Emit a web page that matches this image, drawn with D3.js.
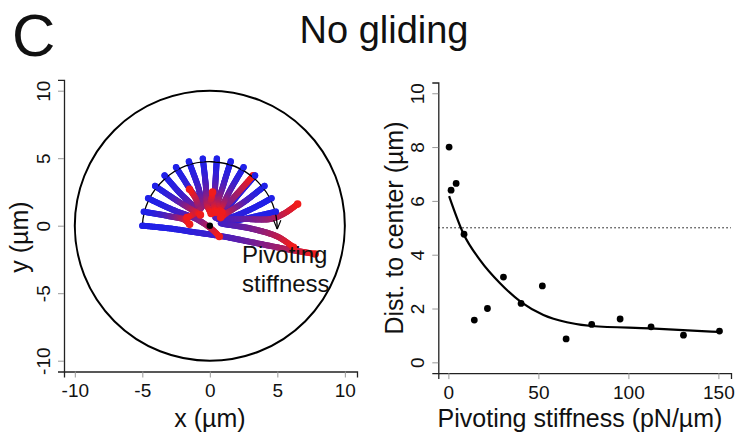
<!DOCTYPE html>
<html>
<head>
<meta charset="utf-8">
<script src="https://cdn.jsdelivr.net/npm/d3@7"></script>
<style>
  body { margin: 0; background: #fff; }
  svg text { font-family: "Liberation Sans", Arial, sans-serif; fill: #111; }
</style>
</head>
<body>
<div id="chart"></div>
<script>
// Right panel: distance to centre vs pivoting stiffness
var stiffness = [0.4, 1.5, 4.3, 8.7, 14.4, 21.7, 30.6, 40.4, 52.2, 65.4, 79.6, 95.4, 112.6, 130.6, 150.6];
var distance  = [8.0, 6.4, 6.65, 4.76, 1.57, 2.0, 3.17, 2.19, 2.84, 0.87, 1.41, 1.61, 1.32, 1.01, 1.16];
// fitted curve
var fitX = [0.4, 8.3, 17.6, 28.7, 40.8, 52.8, 65.8, 79.6, 112, 150];
var fitY = [6.18, 4.79, 3.8, 2.94, 2.22, 1.76, 1.49, 1.35, 1.26, 1.13];
var threshold = 5;

// Left panel: trajectories (x, y in µm), start on the r = 5 half circle
var trajectories = [
  [[-5, 0], [-3, -0.2], [-1, -0.5], [1, -0.8], [3, -1.2], [5.5, -1.7], [7.8, -2.1]],
  [[-4.89, 1.04], [-3, 0.7], [-1.9, 0.45], [-1.5, 0.1]],
  [[-4.57, 2.03], [-2.8, 1.2], [-1.0, 0.5], [0.2, -0.3], [0.7, -0.8]],
  [[-4.05, 2.94], [-2.5, 1.9], [-1.2, 1.1], [-0.7, 0.8]],
  [[-3.35, 3.72], [-2, 2.2], [-0.9, 1.3], [-1.0, 1.9], [-1.5, 2.7]],
  [[-2.5, 4.33], [-1.4, 2.6], [-0.6, 1.4], [-1.7, 0.6]],
  [[-1.55, 4.76], [-0.9, 3], [-0.4, 1.5], [0, 1.7], [0.2, 2.5]],
  [[-0.52, 4.97], [-0.3, 3], [-0.2, 1.5], [0.1, 0.9]],
  [[0.52, 4.97], [0.4, 3], [0.3, 1.5], [0.4, 1.0]],
  [[1.55, 4.76], [1.0, 3], [0.6, 1.5], [0.9, 1.0]],
  [[2.5, 4.33], [1.6, 2.8], [0.8, 1.3], [0.5, 1.0]],
  [[3.35, 3.72], [2.2, 2.4], [1.0, 1.0], [0.4, 0.6], [1.6, 1.9], [3.2, 3.7]],
  [[4.05, 2.94], [2.6, 1.8], [1.2, 0.9], [0.8, 0.6]],
  [[4.57, 2.03], [3, 1.2], [1.5, 0.6], [0.6, 0.5], [2.5, 0.5], [4.5, 0.5], [5.5, 0.9], [6.5, 1.6]],
  [[4.89, 1.04], [3, 0.6], [1.5, 0.3], [0.8, 0.2], [3, -0.2], [5, -0.8], [6.2, -1.6]]
];
var arenaRadius = 10;
var startRadius = 5;

var width = 741, height = 435;
var svg = d3.select("#chart").append("svg")
    .attr("width", width)
    .attr("height", height);

// panel letter and title
svg.append("text").attr("x", 12).attr("y", 56).attr("font-size", 60).text("C");
svg.append("text").attr("x", 384).attr("y", 43).attr("font-size", 38)
    .attr("text-anchor", "middle").text("No gliding");

function styleAxis(g) {
  g.select(".domain").attr("stroke", "#222").attr("stroke-width", 1.3);
  g.selectAll(".tick line").attr("stroke", "#999").attr("stroke-width", 1);
  g.selectAll(".tick text").attr("font-size", 19).attr("fill", "#111")
    .attr("font-family", "Liberation Sans, Arial, sans-serif");
}
function rotateYLabels(g) {
  g.selectAll(".tick text")
    .attr("transform", "rotate(-90)")
    .attr("x", 0).attr("y", -14).attr("dy", 0)
    .attr("text-anchor", "middle");
}
var plainNum = d => String(d);   // hyphen minus, like the original

// ---------- left panel ----------
var x1 = d3.scaleLinear().domain([-10.8, 10.9]).range([64, 357]);
var y1 = d3.scaleLinear().domain([-10.8, 10.8]).range([371.5, 79.9]);
var left = svg.append("g");

left.append("g").attr("transform", "translate(0,371.5)")
    .call(d3.axisBottom(x1).tickValues([-10, -5, 0, 5, 10]).tickFormat(plainNum)
      .tickSizeOuter(0).tickSize(6).tickPadding(6))
    .call(styleAxis);
left.append("g").attr("transform", "translate(64,0)")
    .call(d3.axisLeft(y1).tickValues([-10, -5, 0, 5, 10]).tickFormat(plainNum)
      .tickSizeOuter(0).tickSize(6))
    .call(styleAxis).call(rotateYLabels);

var pxPerUnit = x1(1) - x1(0);
left.append("circle")
    .attr("cx", x1(0)).attr("cy", y1(0)).attr("r", arenaRadius * pxPerUnit)
    .attr("fill", "none").attr("stroke", "#000").attr("stroke-width", 2);

// trajectories, coloured blue -> red along their length
var line = d3.line().x(d => x1(d[0])).y(d => y1(d[1])).curve(d3.curveCatmullRom.alpha(0.5));
var colorAt = d3.interpolateRgb("#2020e8", "#f01c1c");
var segs = [];
trajectories.forEach(function(tr) {
  var p = left.append("path").attr("d", line(tr)).attr("fill", "none");
  var node = p.node(), L = node.getTotalLength();
  var n = Math.max(10, Math.round(L / 1.5));
  var prev = node.getPointAtLength(0);
  for (var i = 1; i <= n; i++) {
    var pt = node.getPointAtLength(L * i / n);
    segs.push({a: prev, b: pt, t: i / n});
    prev = pt;
  }
  p.remove();
});
segs.sort((a, b) => a.t - b.t);
left.append("g").selectAll("line")
    .data(segs)
    .enter()
    .append("line")
    .attr("x1", d => d.a.x).attr("y1", d => d.a.y)
    .attr("x2", d => d.b.x).attr("y2", d => d.b.y)
    .attr("stroke", d => colorAt(Math.pow(d.t, 2.2)))
    .attr("stroke-width", 6)
    .attr("stroke-linecap", "round");

// end blobs
left.append("g").selectAll("circle")
    .data(trajectories)
    .enter()
    .append("circle")
    .attr("cx", d => x1(d[d.length - 1][0]))
    .attr("cy", d => y1(d[d.length - 1][1]))
    .attr("r", 3.8)
    .attr("fill", "#f01c1c");

// half circle with arrow
svg.append("defs").append("marker")
    .attr("id", "arrow")
    .attr("viewBox", "0 0 10 10")
    .attr("refX", 10).attr("refY", 5)
    .attr("markerWidth", 9).attr("markerHeight", 9)
    .attr("markerUnits", "userSpaceOnUse")
    .attr("orient", "auto")
    .append("path")
    .attr("d", "M0,1 L10,5 L0,9")
    .attr("fill", "none").attr("stroke", "#000").attr("stroke-width", 1.3);

var rs = startRadius * pxPerUnit;
var endAng = -3 * Math.PI / 180;
left.append("path")
    .attr("d", "M" + x1(-startRadius) + "," + y1(0) +
      " A" + rs + "," + rs + " 0 0 1 " +
      (x1(0) + rs * Math.cos(endAng)) + "," + (y1(0) - rs * Math.sin(endAng)))
    .attr("fill", "none").attr("stroke", "#000").attr("stroke-width", 1.3)
    .attr("marker-end", "url(#arrow)");

// start points
left.append("g").selectAll("circle")
    .data(trajectories)
    .enter()
    .append("circle")
    .attr("cx", d => x1(d[0][0]))
    .attr("cy", d => y1(d[0][1]))
    .attr("r", 3.2)
    .attr("fill", "#2020e8");

left.append("circle").attr("cx", x1(0)).attr("cy", y1(0)).attr("r", 3.2).attr("fill", "#000");

var lab = left.append("text").attr("font-size", 24);
lab.append("tspan").attr("x", 242).attr("y", 263).text("Pivoting");
lab.append("tspan").attr("x", 242).attr("y", 292).text("stiffness");

left.append("text").attr("x", 210).attr("y", 427).attr("font-size", 25)
    .attr("text-anchor", "middle").text("x (µm)");
left.append("text").attr("transform", "translate(28,237) rotate(-90)")
    .attr("font-size", 25).attr("text-anchor", "middle").text("y (µm)");

// ---------- right panel ----------
var x2 = d3.scaleLinear().domain([-5.6, 157]).range([438.3, 731]);
var y2 = d3.scaleLinear().domain([-0.4, 10.4]).range([373.1, 82.5]);
var right = svg.append("g");

right.append("g").attr("transform", "translate(0,373.1)")
    .call(d3.axisBottom(x2).tickValues([0, 50, 100, 150]).tickFormat(plainNum)
      .tickSizeOuter(0).tickSize(6).tickPadding(6))
    .call(styleAxis);
right.append("g").attr("transform", "translate(438.3,0)")
    .call(d3.axisLeft(y2).tickValues([0, 2, 4, 6, 8, 10]).tickFormat(plainNum)
      .tickSizeOuter(0).tickSize(6))
    .call(styleAxis).call(rotateYLabels);

right.append("line")
    .attr("x1", x2(-5.6)).attr("x2", x2(157))
    .attr("y1", y2(threshold)).attr("y2", y2(threshold))
    .attr("stroke", "#000").attr("stroke-width", 1)
    .attr("stroke-dasharray", "1.5,2.5");

var fit = fitX.map((v, i) => [v, fitY[i]]);
right.append("path")
    .attr("d", d3.line().x(d => x2(d[0])).y(d => y2(d[1])).curve(d3.curveMonotoneX)(fit))
    .attr("fill", "none").attr("stroke", "#000").attr("stroke-width", 2.2);

right.append("g").selectAll("circle")
    .data(stiffness)
    .enter()
    .append("circle")
    .attr("cx", d => x2(d))
    .attr("cy", (d, i) => y2(distance[i]))
    .attr("r", 3.4)
    .attr("fill", "#000");

right.append("text").attr("x", 580).attr("y", 427).attr("font-size", 25)
    .attr("text-anchor", "middle").text("Pivoting stiffness (pN/µm)");
right.append("text").attr("transform", "translate(403,228) rotate(-90)")
    .attr("font-size", 25).attr("text-anchor", "middle").text("Dist. to center (µm)");
</script>
</body>
</html>
